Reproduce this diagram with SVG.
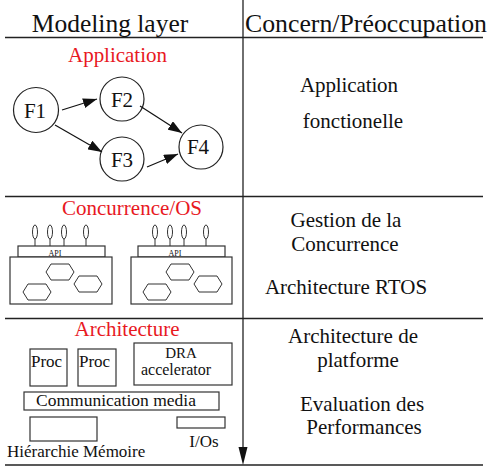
<svg xmlns="http://www.w3.org/2000/svg" width="493" height="469" viewBox="0 0 493 469" font-family="'Liberation Serif', 'Times New Roman', 'DejaVu Serif', serif">
<style>
text{font-family:'Liberation Serif','Times New Roman','DejaVu Serif',serif;fill:#111}
.red{fill:#e8191f}
.ln{stroke:#222;stroke-width:1.3;fill:none}
.bx{stroke:#333;stroke-width:1.2;fill:#fff}
.nd{stroke:#222;stroke-width:1.2;fill:#fff}
.hx{stroke:#333;stroke-width:1;fill:#fff}
.pin{stroke:#333;stroke-width:1;fill:#fff}
.ed{stroke:#111;stroke-width:1.2;fill:none;marker-end:url(#ah)}
</style>
<defs>
<marker id="ah" viewBox="0 0 14 10" refX="14" refY="5" markerWidth="14" markerHeight="10" markerUnits="userSpaceOnUse" orient="auto">
<path d="M0,0 L14,5 L0,10 Z" fill="#111"/>
</marker>
<polygon id="hex" points="5,0 23,0 28,8 23,16 5,16 0,8"/>
<g id="pins">
<line x1="0" y1="238" x2="0" y2="246"/><ellipse cx="0" cy="232" rx="2.5" ry="7"/>
</g>
</defs>

<g id="grid">
<line class="ln" x1="5" y1="37.5" x2="483" y2="37.5"/>
<line class="ln" x1="5" y1="196.5" x2="483" y2="196.5"/>
<line class="ln" x1="5" y1="318.5" x2="483" y2="318.5"/>
<line class="ln" x1="5" y1="465" x2="483" y2="465"/>
<line class="ln" x1="243" y1="0" x2="243" y2="447"/>
<path d="M238.5,447 L247.5,447 L243,465 Z" fill="#111"/>
</g>

<g id="headers">
<text x="110" y="32" font-size="25.5" text-anchor="middle">Modeling layer</text>
<text x="366" y="32" font-size="25.5" text-anchor="middle" textLength="242" lengthAdjust="spacingAndGlyphs">Concern/Préoccupation</text>
</g>

<g id="application">
<text class="red" x="68" y="62" font-size="21" textLength="99" lengthAdjust="spacing">Application</text>
<g id="F1"><circle class="nd" cx="36" cy="110" r="22.5"/><text x="35" y="118" font-size="21" text-anchor="middle">F1</text></g>
<g id="F2"><circle class="nd" cx="122" cy="99" r="22"/><text x="122" y="107" font-size="21" text-anchor="middle">F2</text></g>
<g id="F3"><circle class="nd" cx="122" cy="159" r="22"/><text x="122" y="167" font-size="21" text-anchor="middle">F3</text></g>
<g id="F4"><circle class="nd" cx="201" cy="147" r="22"/><text x="198" y="154" font-size="21" text-anchor="middle">F4</text></g>
</g>

<g id="connectors">
<line class="ed" x1="62" y1="110" x2="97" y2="99"/>
<line class="ed" x1="55" y1="125" x2="102" y2="152"/>
<line class="ed" x1="140" y1="106" x2="182" y2="133"/>
<line class="ed" x1="147" y1="167" x2="178" y2="154"/>
</g>

<g id="concurrence">
<text class="red" x="132" y="215" font-size="21" text-anchor="middle">Concurrence/OS</text>
<g id="os1">
<g class="pin"><use href="#pins" x="35"/><use href="#pins" x="50"/><use href="#pins" x="64"/><use href="#pins" x="86"/></g>
<rect class="bx" x="18" y="246" width="87" height="11"/>
<text x="55" y="256" font-size="8" text-anchor="middle">API</text>
<rect class="bx" x="10" y="257" width="102" height="47"/>
<g class="hx"><use href="#hex" x="46" y="264"/><use href="#hex" x="74" y="276"/><use href="#hex" x="23" y="284"/></g>
</g>
<g id="os2">
<g class="pin"><use href="#pins" x="155"/><use href="#pins" x="170"/><use href="#pins" x="184"/><use href="#pins" x="206"/></g>
<rect class="bx" x="138" y="246" width="87" height="11"/>
<text x="175" y="256" font-size="8" text-anchor="middle">API</text>
<rect class="bx" x="131" y="257" width="101" height="47"/>
<g class="hx"><use href="#hex" x="166" y="264"/><use href="#hex" x="194" y="276"/><use href="#hex" x="143" y="284"/></g>
</g>
</g>

<g id="architecture">
<text class="red" x="127" y="336" font-size="21" text-anchor="middle">Architecture</text>
<g id="proc1"><rect class="bx" x="30" y="349" width="37" height="37"/><text x="31" y="367" font-size="17">Proc</text></g>
<g id="proc2"><rect class="bx" x="78" y="349" width="38" height="37"/><text x="79" y="367" font-size="17">Proc</text></g>
<g id="dra"><rect class="bx" x="134" y="343" width="98" height="42"/>
<text x="181" y="358" font-size="15" text-anchor="middle">DRA</text>
<text x="176" y="375" font-size="16" text-anchor="middle">accelerator</text></g>
<g id="comm"><rect class="bx" x="24" y="392" width="195" height="18"/>
<text x="116" y="406" font-size="17.5" text-anchor="middle">Communication media</text></g>
<g id="mem"><rect class="bx" x="30" y="417" width="67" height="24"/>
<text x="7" y="457" font-size="17">Hiérarchie Mémoire</text></g>
<g id="io"><rect class="bx" x="177" y="417" width="48" height="11"/>
<text x="204" y="447" font-size="17" text-anchor="middle">I/Os</text></g>
</g>

<g id="concerns" font-size="21">
<text x="349" y="92" font-size="21" text-anchor="middle" textLength="98" lengthAdjust="spacing">Application</text>
<text x="353" y="128" font-size="21" text-anchor="middle">fonctionelle</text>
<text x="346" y="227" font-size="21" text-anchor="middle">Gestion de la</text>
<text x="345" y="251" font-size="21" text-anchor="middle">Concurrence</text>
<text x="346" y="294" font-size="21" text-anchor="middle">Architecture RTOS</text>
<text x="353" y="343" font-size="21" text-anchor="middle">Architecture de</text>
<text x="358" y="367" font-size="21" text-anchor="middle">platforme</text>
<text x="362" y="411" font-size="21" text-anchor="middle">Evaluation des</text>
<text x="364" y="434" font-size="21" text-anchor="middle">Performances</text>
</g>
</svg>
